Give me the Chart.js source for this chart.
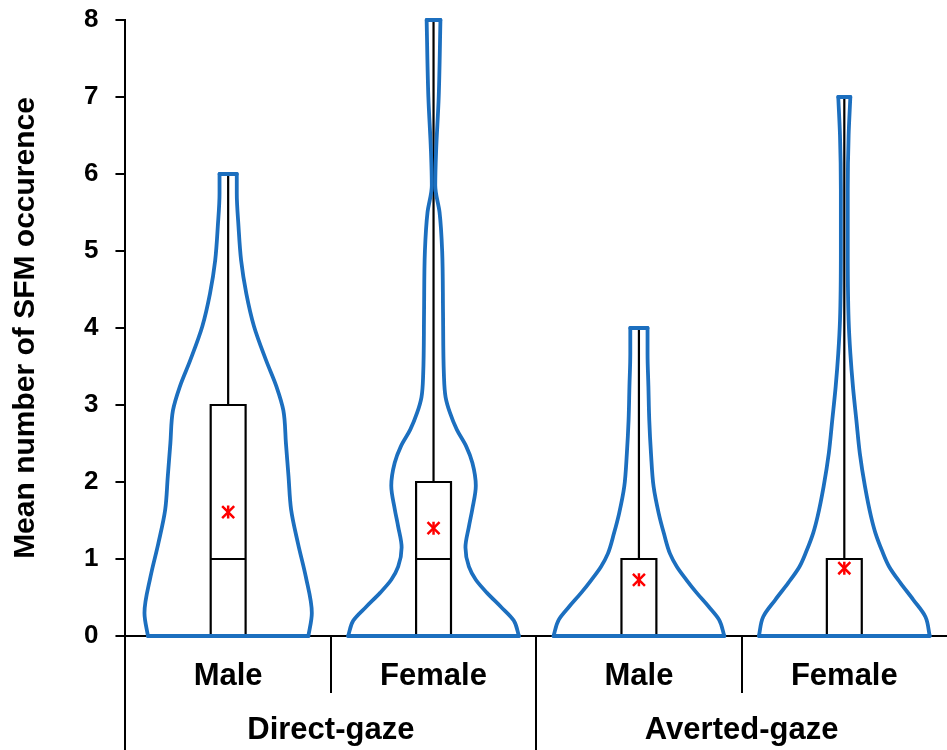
<!DOCTYPE html>
<html>
<head>
<meta charset="utf-8">
<script src="https://cdn.jsdelivr.net/npm/chart.js@4.4.1/dist/chart.umd.min.js"></script>
<style>
html, body { margin: 0; padding: 0; background: #fff; overflow: hidden; }
</style>
</head>
<body>
<canvas id="myChart" width="947" height="750"></canvas>
<script>
var groups = ["Direct-gaze", "Averted-gaze"];
var sexes = ["Male", "Female", "Male", "Female"];
var yTicks = [0, 1, 2, 3, 4, 5, 6, 7, 8];
var yTitle = "Mean number of SFM occurence";

// box plot stats, one per violin (same order as sexes)
var q1 = [0, 0, 0, 0];
var medians = [1, 1, 0, 0];
var q3 = [3, 2, 1, 1];
var whiskerLow = [0, 0, 0, 0];
var whiskerHigh = [6, 8, 4, 7];
var means = [1.61, 1.40, 0.73, 0.88];

// density outline: [value, relative width 0-100]
var densityDirectMale = [[0, 93], [0.3, 97], [0.77, 90], [1.2, 81], [1.64, 73], [2.07, 70], [2.5, 67],
	[2.93, 64], [3.24, 56], [3.58, 44], [4.02, 30], [4.45, 21], [4.88, 15], [5.32, 12], [5.75, 10], [6, 10]];
var densityDirectFemale = [[0, 99], [0.2, 93], [0.38, 78], [0.56, 62], [0.73, 49], [0.9, 41], [1.15, 37],
	[1.42, 41], [1.65, 45], [1.95, 49], [2.25, 45], [2.46, 38], [2.68, 27], [2.9, 19], [3.1, 14], [3.4, 12],
	[4.2, 11], [5.0, 10], [5.5, 7], [5.85, 2], [6.3, 3], [7, 6], [8, 8]];
var densityAvertedMale = [[0, 99], [0.21, 93], [0.38, 81], [0.56, 67], [0.73, 55], [0.9, 44], [1.07, 36],
	[1.33, 29], [1.59, 23], [1.94, 17], [2.37, 14], [2.8, 12], [3.24, 11], [3.67, 10], [4, 10]];
var densityAvertedFemale = [[0, 99], [0.25, 94], [0.47, 80], [0.69, 65], [0.9, 52], [1.1, 44], [1.34, 36],
	[1.55, 31], [1.94, 24], [2.37, 18], [2.8, 14], [3.24, 10], [3.67, 7], [4.1, 5], [5.0, 4], [5.8, 4],
	[6.5, 5], [7, 7]];

var densities = [densityDirectMale, densityDirectFemale, densityAvertedMale, densityAvertedFemale];

var violinBlue = "#1c6fbf";
var font = "'Liberation Sans', Arial, sans-serif";
var violinScale = 0.42; // half width of a 100 density, in category units
var boxHalf = 0.085;

// one side of a violin, bottom to top (side = -1 left, +1 right)
function violinSide(i, side) {
	return densities[i].map(function(p) {
		return {x: i + side * p[1] / 100 * violinScale, y: p[0]};
	});
}

var violinSideStyle = {borderColor: violinBlue, borderWidth: 3.8, pointRadius: 0, fill: false,
	borderCapStyle: "round", borderJoinStyle: "round",
	indexAxis: "y", cubicInterpolationMode: "monotone", clip: 6, order: 1};
var violinCapStyle = {borderColor: violinBlue, borderWidth: 3.8, pointRadius: 0, fill: false,
	borderCapStyle: "round", tension: 0, clip: 6, order: 1};
var blackLine = {borderColor: "#000", borderWidth: 2.2, tension: 0, pointRadius: 0, fill: false, order: 2};

var datasets = [];
for (var i = 0; i < sexes.length; i++) {
	var leftSide = violinSide(i, -1);
	var rightSide = violinSide(i, 1);
	var last = leftSide.length - 1;
	datasets.push(Object.assign({data: leftSide}, violinSideStyle));
	datasets.push(Object.assign({data: rightSide}, violinSideStyle));
	datasets.push(Object.assign({data: [leftSide[0], rightSide[0]]}, violinCapStyle));
	datasets.push(Object.assign({data: [leftSide[last], rightSide[last]]}, violinCapStyle));

	datasets.push(Object.assign({
		data: [
			{x: i - boxHalf, y: q1[i]}, {x: i - boxHalf, y: q3[i]},
			{x: i + boxHalf, y: q3[i]}, {x: i + boxHalf, y: q1[i]},
			{x: i - boxHalf, y: q1[i]}
		]
	}, blackLine));
	datasets.push(Object.assign({data: [{x: i - boxHalf, y: medians[i]}, {x: i + boxHalf, y: medians[i]}]}, blackLine));
	datasets.push(Object.assign({data: [{x: i, y: q3[i]}, {x: i, y: whiskerHigh[i]}]}, blackLine));
	datasets.push(Object.assign({data: [{x: i, y: whiskerLow[i]}, {x: i, y: q1[i]}]}, blackLine));
}

// mean marker: an x with a vertical bar through it
var meanPoints = means.map(function(m, i) { return {x: i, y: m}; });
datasets.push({data: meanPoints, showLine: false, pointStyle: "crossRot", pointRadius: 8.5,
	pointBorderColor: "#ff0000", pointBorderWidth: 2.5, order: 0});
datasets.push({data: meanPoints, showLine: false, pointStyle: "line", pointRotation: 90, pointRadius: 6.5,
	pointBorderColor: "#ff0000", pointBorderWidth: 2.5, order: 0});

// hide the boundary line past the last category
function edgeColor(ctx) {
	return ctx.type === "tick" ? "#000" : "rgba(0,0,0,0)";
}

var chart = new Chart(document.getElementById("myChart"), {
	type: "line",
	data: {datasets: datasets},
	options: {
		responsive: false,
		animation: false,
		devicePixelRatio: 1,
		layout: {autoPadding: false, padding: {left: 4, right: 0, top: 20, bottom: 0}},
		plugins: {legend: {display: false}, tooltip: {enabled: false}},
		scales: {
			x: {type: "linear", display: false, min: -0.5, max: 3.5},
			xSex: {
				type: "category",
				labels: sexes,
				position: "bottom",
				offset: true,
				weight: 0,
				afterFit: function(axis) { axis.height = 57; },
				grid: {offset: true, drawOnChartArea: false, tickLength: 57, lineWidth: 2, color: edgeColor},
				border: {color: "#000", width: 2},
				ticks: {padding: -35, color: "#000", maxRotation: 0, autoSkip: false,
					font: {family: font, size: 31, weight: "bold"}}
			},
			xGroup: {
				type: "category",
				labels: groups,
				position: "bottom",
				offset: true,
				weight: 1,
				afterFit: function(axis) { axis.height = 57; },
				grid: {offset: true, drawOnChartArea: false, tickLength: 60, lineWidth: 2, color: edgeColor},
				border: {display: false},
				ticks: {padding: -41, color: "#000", maxRotation: 0, autoSkip: false,
					font: {family: font, size: 31, weight: "bold"}}
			},
			y: {
				min: 0,
				max: 8,
				afterBuildTicks: function(axis) {
					axis.ticks = yTicks.map(function(v) { return {value: v}; });
				},
				afterFit: function(axis) { axis.paddingTop = 0; },
				grid: {drawOnChartArea: false, tickLength: 10, lineWidth: 2, color: "#000"},
				border: {color: "#000", width: 2},
				ticks: {padding: 17, color: "#000", font: {family: font, size: 26, weight: "bold"}},
				title: {display: true, text: yTitle, color: "#000", padding: {top: 4, bottom: 23},
					font: {family: font, size: 30, weight: "bold"}}
			}
		}
	}
});
</script>
</body>
</html>
